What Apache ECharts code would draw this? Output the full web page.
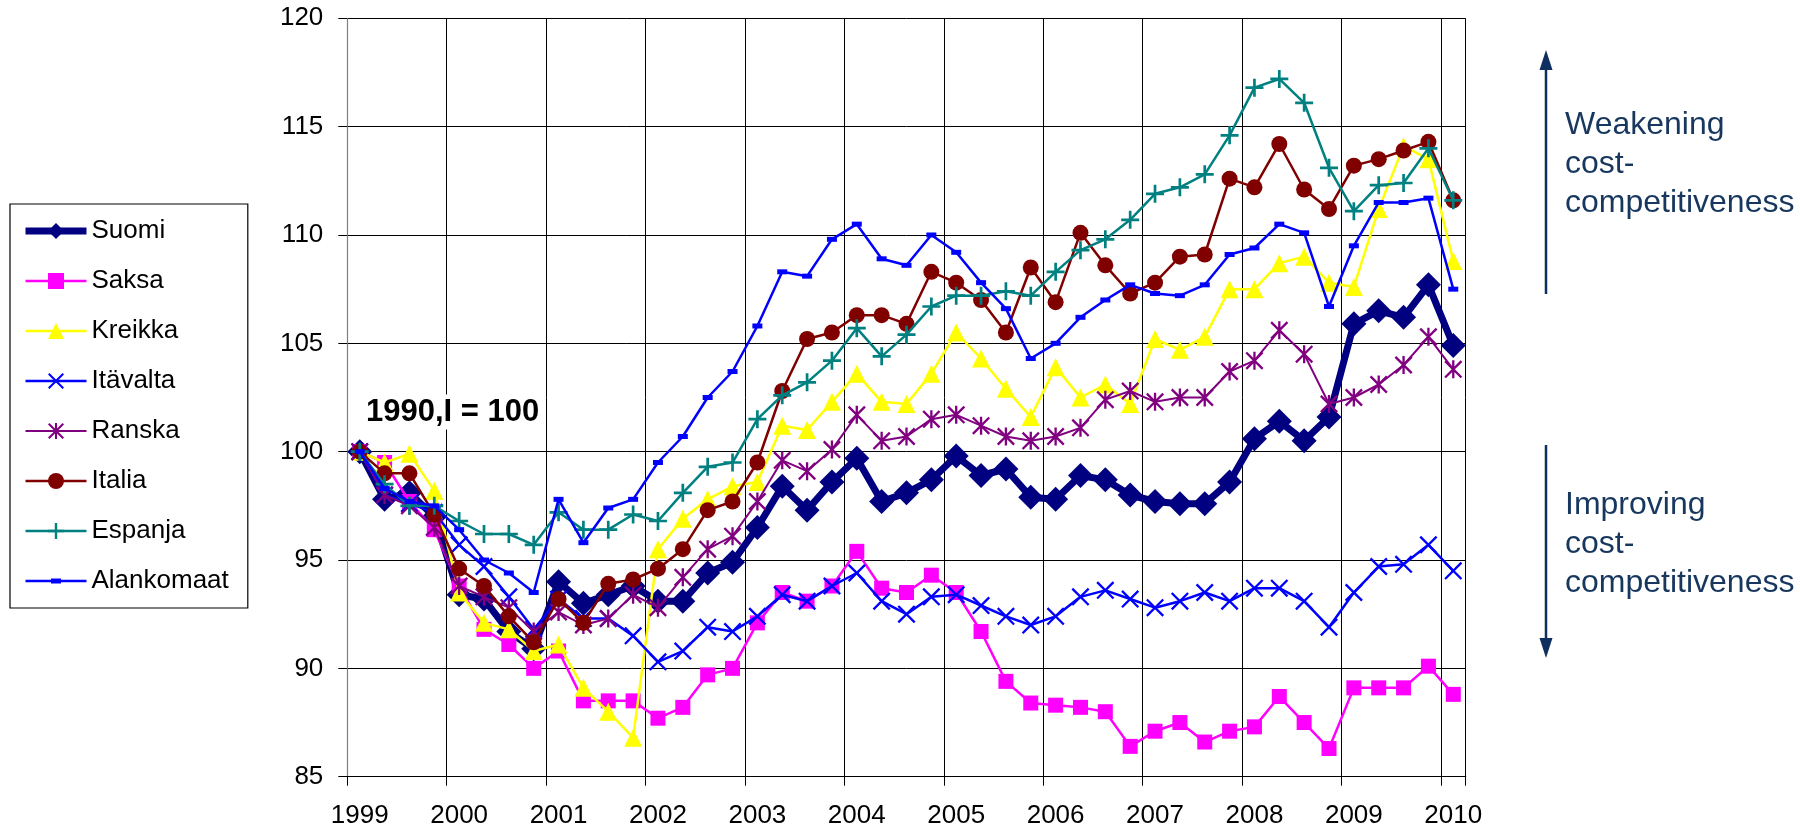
<!DOCTYPE html>
<html><head><meta charset="utf-8">
<script src="https://cdn.jsdelivr.net/npm/echarts@6/dist/echarts.min.js"></script>
<style>html,body{margin:0;padding:0;background:#fff}#c{width:1800px;height:833px}</style>
</head><body><div id="c"></div>
<script>
// ---- data ----
const years = ['1999','2000','2001','2002','2003','2004','2005','2006','2007','2008','2009','2010'];
const quarters = ['Q1','Q2','Q3','Q4'];
const categories = [];
years.forEach(y => quarters.forEach(q => categories.push(y + ' ' + q)));
categories.length = 45; // 1999 Q1 ... 2010 Q1

const seriesNames = ['Suomi','Saksa','Kreikka','Itävalta','Ranska','Italia','Espanja','Alankomaat'];

const suomi = [100, 97.8, 98.1, 97.0, 93.4, 93.2, 91.7, 90.9, 94.0, 93.0, 93.4, 93.8, 93.1, 93.1, 94.4, 94.9,
  96.5, 98.4, 97.3, 98.6, 99.7, 97.7, 98.1, 98.7, 99.8, 98.9, 99.2, 97.9, 97.8, 98.9, 98.7, 98.0,
  97.7, 97.6, 97.6, 98.6, 100.6, 101.4, 100.5, 101.6, 105.9, 106.5, 106.2, 107.7, 104.9];
const saksa = [100, 99.5, 97.7, 96.4, 93.8, 91.8, 91.1, 90.0, 90.8, 88.5, 88.5, 88.5, 87.7, 88.2, 89.7, 90.0,
  92.1, 93.5, 93.1, 93.8, 95.4, 93.7, 93.5, 94.3, 93.5, 91.7, 89.4, 88.4, 88.3, 88.2, 88.0, 86.4,
  87.1, 87.5, 86.6, 87.1, 87.3, 88.7, 87.5, 86.3, 89.1, 89.1, 89.1, 90.1, 88.8];
const kreikka = [100, 99.5, 99.9, 98.2, 93.5, 92.1, 91.8, 90.8, 91.1, 89.1, 88.0, 86.8, 95.5, 96.9, 97.8, 98.4,
  98.6, 101.2, 101.0, 102.3, 103.6, 102.3, 102.2, 103.6, 105.5, 104.3, 102.9, 101.6, 103.9, 102.5, 103.1, 102.2,
  105.2, 104.7, 105.3, 107.5, 107.5, 108.7, 109.0, 107.8, 107.6, 111.2, 114.1, 113.5, 108.8];
const itavalta = [100, 98.0, 97.6, 97.2, 95.7, 94.7, 93.3, 91.8, 93.2, 92.3, 92.3, 91.5, 90.3, 90.8, 91.9, 91.7,
  92.4, 93.4, 93.1, 93.8, 94.4, 93.1, 92.5, 93.3, 93.4, 92.9, 92.4, 92.0, 92.4, 93.3, 93.6, 93.2,
  92.8, 93.1, 93.5, 93.1, 93.7, 93.7, 93.1, 91.9, 93.5, 94.7, 94.8, 95.7, 94.5];
const ranska = [100, 98.0, 97.5, 96.5, 93.8, 93.3, 92.8, 91.7, 92.6, 92.0, 92.3, 93.4, 92.8, 94.2, 95.5, 96.1,
  97.7, 99.6, 99.1, 100.1, 101.7, 100.5, 100.7, 101.5, 101.7, 101.2, 100.7, 100.5, 100.7, 101.1, 102.4, 102.8,
  102.3, 102.5, 102.5, 103.7, 104.2, 105.6, 104.5, 102.2, 102.5, 103.1, 104.0, 105.3, 103.8];
const italia = [100, 99.0, 99.0, 97.1, 94.6, 93.8, 92.4, 91.2, 93.2, 92.1, 93.9, 94.1, 94.6, 95.5, 97.3, 97.7,
  99.5, 102.8, 105.2, 105.5, 106.3, 106.3, 105.9, 108.3, 107.8, 107.0, 105.5, 108.5, 106.9, 110.1, 108.6, 107.3,
  107.8, 109.0, 109.1, 112.6, 112.2, 114.2, 112.1, 111.2, 113.2, 113.5, 113.9, 114.3, 111.6];
const espanja = [100, 98.5, 97.5, 97.5, 96.8, 96.2, 96.2, 95.7, 97.2, 96.4, 96.4, 97.1, 96.8, 98.1, 99.3, 99.5,
  101.5, 102.6, 103.2, 104.2, 105.7, 104.4, 105.4, 106.7, 107.2, 107.2, 107.4, 107.2, 108.3, 109.3, 109.8, 110.7,
  111.9, 112.2, 112.8, 114.6, 116.8, 117.2, 116.1, 113.1, 111.1, 112.3, 112.4, 114.0, 111.6];
const alankomaat = [100, 98.3, 97.7, 97.5, 96.4, 95.0, 94.4, 93.5, 97.8, 95.8, 97.4, 97.8, 99.5, 100.7, 102.5, 103.7,
  105.8, 108.3, 108.1, 109.8, 110.5, 108.9, 108.6, 110.0, 109.2, 107.8, 106.6, 104.3, 105.0, 106.2, 107.0, 107.7,
  107.3, 107.2, 107.7, 109.1, 109.4, 110.5, 110.1, 106.7, 109.5, 111.5, 111.5, 111.7, 107.5];

const yTicks = { min: 85, max: 120, interval: 5 };

// ---- marker shapes ----
const plusPath = 'path://M-1.2,-8L1.2,-8L1.2,8L-1.2,8Z M-8,-1.2L8,-1.2L8,1.2L-8,1.2Z';
const d1 = 'M6.36,7.78L-7.78,-6.36L-6.36,-7.78L7.78,6.36Z';
const d2 = 'M-7.78,6.36L6.36,-7.78L7.78,-6.36L-6.36,7.78Z';
const xPath = 'path://' + d1 + ' ' + d2;
const starPath = 'path://' + d1 + ' ' + d2 + ' M-1,-7.8L1,-7.8L1,7.8L-1,7.8Z';
const dashLegendIcon = 'path://M0,1.3L61,1.3L61,3.7L0,3.7Z M25.5,0L35.5,0L35.5,5L25.5,5Z';

const FONT = 'Liberation Sans, Arial, sans-serif';

const styles = {
  'Suomi':      { color: '#000080', width: 7,   symbol: 'diamond',  size: 25 },
  'Saksa':      { color: '#FF00FF', width: 2.5, symbol: 'rect',     size: 15 },
  'Kreikka':    { color: '#FFFF00', width: 2.5, symbol: 'triangle', size: 18 },
  'Itävalta':   { color: '#0000FF', width: 2.5, symbol: xPath,      size: 18 },
  'Ranska':     { color: '#800080', width: 2,   symbol: starPath,   size: 18 },
  'Italia':     { color: '#800000', width: 2.5, symbol: 'circle',   size: 16 },
  'Espanja':    { color: '#008080', width: 2.5, symbol: plusPath,   size: 18 },
  'Alankomaat': { color: '#0000FF', width: 2.5, symbol: 'rect',     size: [10, 5] }
};
const values = [suomi, saksa, kreikka, itavalta, ranska, italia, espanja, alankomaat];

const series = seriesNames.map((n, i) => {
  const s = styles[n];
  return {
    name: n, type: 'line', data: values[i],
    symbol: s.symbol, symbolSize: s.size, showAllSymbol: true,
    lineStyle: { color: s.color, width: s.width },
    itemStyle: { color: s.color, borderWidth: 0 },
    emphasis: { disabled: true },
    z: 2 + i
  };
});

const legendData = seriesNames.map(n => {
  const item = { name: n, lineStyle: { width: styles[n].width } };
  if (n === 'Alankomaat') item.icon = dashLegendIcon;
  return item;
});

const chart = echarts.init(document.getElementById('c'), null, { renderer: 'canvas' });
chart.setOption({
  animation: false,
  backgroundColor: '#fff',
  grid: { left: 347.3, right: 334.3, top: 18.3, bottom: 56.3, containLabel: false },
  legend: {
    orient: 'vertical', left: 10, top: 204,
    data: legendData,
    padding: [14, 19, 14, 12],
    itemGap: 24, itemWidth: 61, itemHeight: 20,
    borderColor: '#000', borderWidth: 1.2,
    textStyle: { fontSize: 26, fontFamily: FONT, color: '#000' },
    selectedMode: false
  },
  xAxis: {
    type: 'category', data: categories, boundaryGap: true,
    axisLine: { lineStyle: { color: '#000', width: 1.2 } },
    axisTick: { show: true, interval: 3, length: 9, lineStyle: { color: '#000' } },
    axisLabel: { interval: 3, margin: 26, fontSize: 26, fontFamily: FONT, color: '#000',
      formatter: v => v.slice(0, 4) },
    splitLine: { show: true, interval: 3, lineStyle: { color: '#000', width: 1 } }
  },
  yAxis: {
    type: 'value', min: yTicks.min, max: yTicks.max, interval: yTicks.interval,
    axisLine: { show: true, lineStyle: { color: '#808080', width: 1.2 } },
    axisTick: { show: true, length: 9, lineStyle: { color: '#000' } },
    axisLabel: { margin: 24, fontSize: 26, fontFamily: FONT, color: '#000' },
    splitLine: { show: true, lineStyle: { color: '#000', width: 1 } }
  },
  graphic: [
    { type: 'text', x: 366, y: 412, z: 1,
      style: { text: '1990,I = 100', font: 'bold 31px ' + FONT, fill: '#000',
        verticalAlign: 'middle', backgroundColor: '#fff', padding: [2, 0] } },
    { type: 'line', shape: { x1: 1546, y1: 66, x2: 1546, y2: 294 },
      style: { stroke: '#0E2F5F', lineWidth: 2.5 } },
    { type: 'polygon', shape: { points: [[1546, 50], [1539.5, 70], [1552.5, 70]] },
      style: { fill: '#0E2F5F' } },
    { type: 'line', shape: { x1: 1546, y1: 445, x2: 1546, y2: 642 },
      style: { stroke: '#0E2F5F', lineWidth: 2.5 } },
    { type: 'polygon', shape: { points: [[1546, 658], [1539.5, 638], [1552.5, 638]] },
      style: { fill: '#0E2F5F' } },
    { type: 'text', x: 1565, y: 106,
      style: { text: 'Weakening\ncost-\ncompetitiveness', fontSize: 32, fontFamily: FONT,
        lineHeight: 39, fill: '#17375E', verticalAlign: 'top' } },
    { type: 'text', x: 1565, y: 486,
      style: { text: 'Improving\ncost-\ncompetitiveness', fontSize: 32, fontFamily: FONT,
        lineHeight: 39, fill: '#17375E', verticalAlign: 'top' } }
  ],
  series: series
});
</script>
</body></html>
